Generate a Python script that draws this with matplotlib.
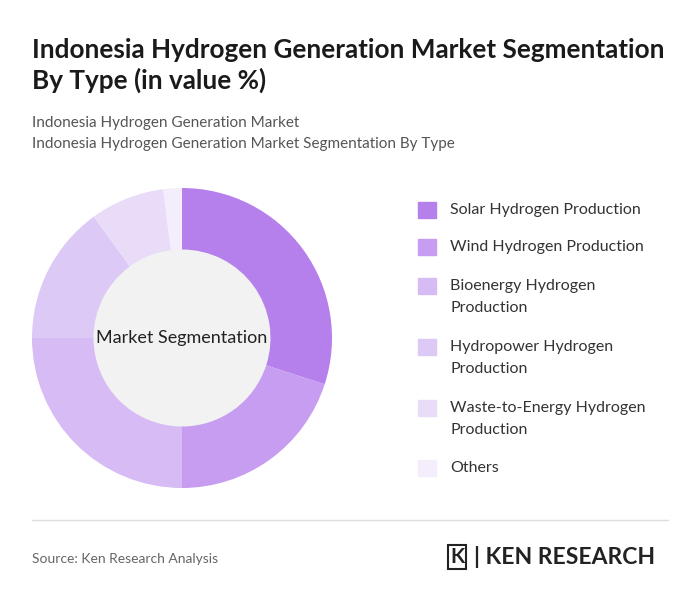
import matplotlib.pyplot as plt
from matplotlib.patches import Circle, Rectangle

plt.rcParams['font.family'] = ['Lato', 'DejaVu Sans']

labels = ['Solar Hydrogen Production', 'Wind Hydrogen Production',
          'Bioenergy Hydrogen\nProduction', 'Hydropower Hydrogen\nProduction',
          'Waste-to-Energy Hydrogen\nProduction', 'Others']
values = [30, 20, 25, 15, 8, 2]
colors = ['#B580EC', '#C69DF0', '#D6BBF4', '#DDC9F5', '#E9DCF8', '#F4EDFB']

fig = plt.figure(figsize=(7, 6.05), dpi=100)
fig.patch.set_facecolor('white')

fig.text(32/700, 1-50/605, 'Indonesia Hydrogen Generation Market Segmentation',
         fontsize=18.8, fontweight='bold', color='#1a1a1a', va='center')
fig.text(32/700, 1-80/605, 'By Type (in value %)',
         fontsize=18.8, fontweight='bold', color='#1a1a1a', va='center')
fig.text(32/700, 1-123/605, 'Indonesia Hydrogen Generation Market',
         fontsize=11, color='#555555', va='center')
fig.text(32/700, 1-144/605, 'Indonesia Hydrogen Generation Market Segmentation By Type',
         fontsize=11, color='#555555', va='center')

ax = fig.add_axes([32/700, 1-488/605, 300/700, 300/605])
ax.pie(values, colors=colors, startangle=90, counterclock=False,
       wedgeprops=dict(width=0.41, linewidth=0))
ax.add_patch(Circle((0, 0), 0.59, color='#F2F2F2', zorder=0))
ax.text(0, 0, 'Market Segmentation', ha='center', va='center', fontsize=13, color='#222222')
ax.set_xlim(-1, 1)
ax.set_ylim(-1, 1)
ax.set_aspect('equal')
ax.axis('off')

ys = [210, 247, 297, 358, 419, 468]
for lab, c, y in zip(labels, colors, ys):
    nl = lab.count('\n')
    top = y - 11 * nl
    fig.patches.append(Rectangle((418/700, 1-(top+8)/605), 18/700, 16/605,
                                 transform=fig.transFigure, color=c))
    fig.text(450/700, 1-y/605, lab, fontsize=11.5, color='#333333', va='center',
             linespacing=1.7)

fig.add_artist(plt.Line2D([32/700, 668/700], [1-520/605, 1-520/605],
                          transform=fig.transFigure, color='#dddddd', lw=1))
fig.text(32/700, 1-559/605, 'Source: Ken Research Analysis', fontsize=10,
         color='#666666', va='center')
fig.text(450/700, 1-557/605, 'K', fontsize=15, fontweight='bold', color='#222222',
         va='center', bbox=dict(boxstyle='square,pad=0.1', fc='white', ec='#222222', lw=1.5))
fig.text(474/700, 1-557/605, '| KEN RESEARCH', fontsize=16.5, fontweight='bold',
         color='#222222', va='center')

fig.savefig('out.png', dpi=100, facecolor='white')
